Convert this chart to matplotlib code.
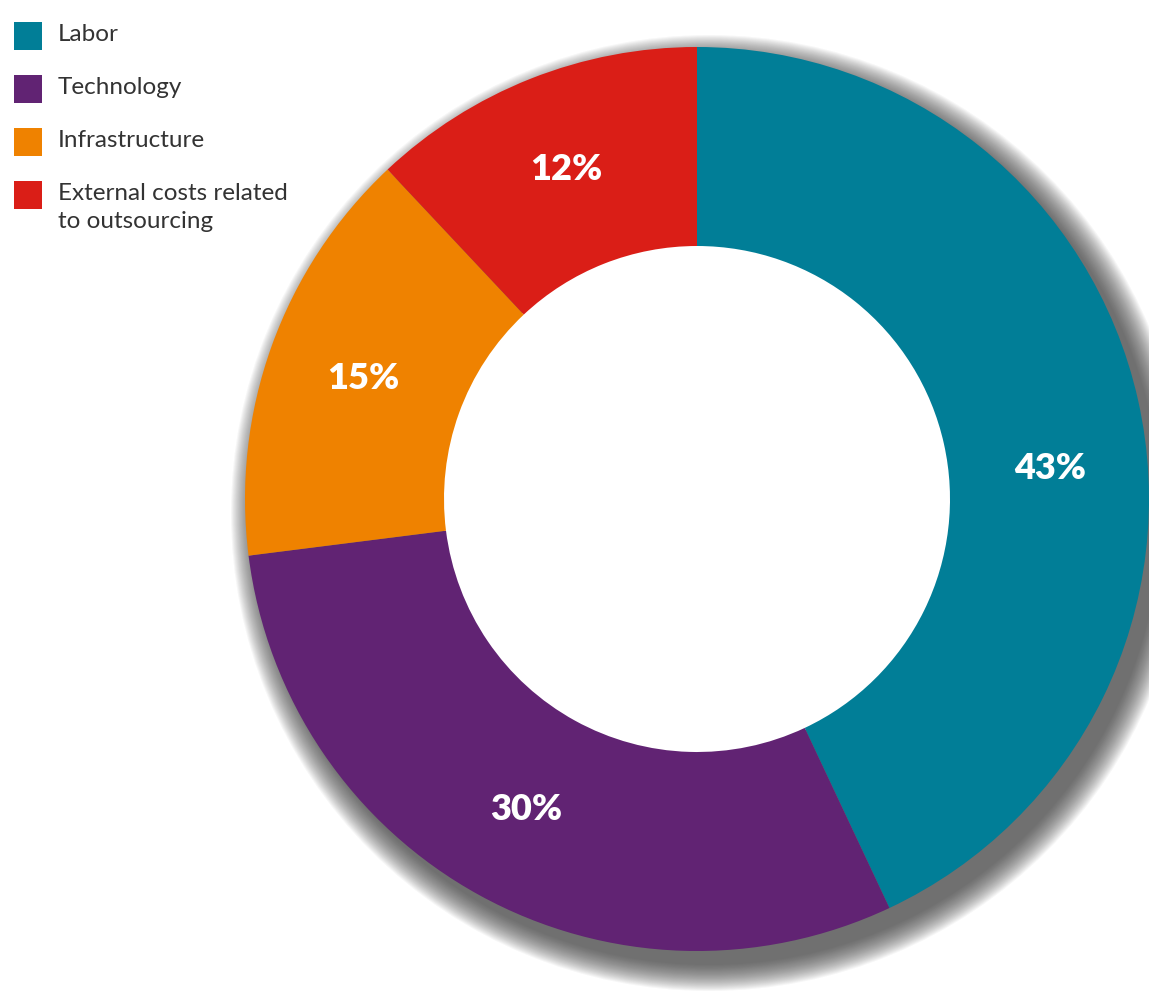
import matplotlib.pyplot as plt
from matplotlib.patches import Circle, Rectangle
import numpy as np

categories = ["Labor", "Technology", "Infrastructure", "External costs related\nto outsourcing"]
shares = [43, 30, 15, 12]
colors = ["#017E97", "#612373", "#EF8200", "#DA1E17"]

W, H = 1149, 1000
CENTER = (697, 501)
R_OUT = 452
R_IN = 253

fig = plt.figure(figsize=(W / 100, H / 100), dpi=100)
ax = fig.add_axes([0, 0, 1, 1])

# blurred drop shadow toward lower right: stacked translucent discs
for k in np.linspace(26, 0, 26):
    ax.add_patch(Circle((CENTER[0] + 12, CENTER[1] - 14), R_OUT + k,
                        color="#3a3a3a", alpha=0.045, lw=0, zorder=1))
ax.add_patch(Circle(CENTER, R_IN + 2, color="white", lw=0, zorder=2))

wedges, _, pct = ax.pie(
    shares,
    colors=colors,
    center=CENTER,
    radius=R_OUT,
    startangle=90,
    counterclock=False,
    autopct="%d%%",
    pctdistance=0.785,
    wedgeprops=dict(width=R_OUT - R_IN, linewidth=0),
    textprops=dict(color="white", fontsize=26, fontweight="heavy", family="Lato"),
    frame=True,
)
for w in wedges:
    w.set_zorder(3)
for t in pct:
    t.set_zorder(4)

# Labor label sits a bit lower than the wedge middle in the original
ang = np.deg2rad(5)
r_lab = 0.785 * R_OUT
pct[0].set_position((CENTER[0] + r_lab * np.cos(ang), CENTER[1] + r_lab * np.sin(ang)))

ax.set_xlim(0, W)
ax.set_ylim(0, H)
ax.set_aspect("equal")
ax.axis("off")

# legend: squares + labels in the upper-left corner
box, pitch, top = 28, 53, H - 36
for i, (lab, col) in enumerate(zip(categories, colors)):
    yc = top - i * pitch
    ax.add_patch(Rectangle((14, yc - box / 2), box, box, color=col, lw=0, zorder=5))
    ax.text(58, yc + 12, lab, ha="left", va="top", fontsize=17.5, family="Lato",
            color="#333333", linespacing=1.4, zorder=5)

fig.savefig("out.png", dpi=100, facecolor="white")
